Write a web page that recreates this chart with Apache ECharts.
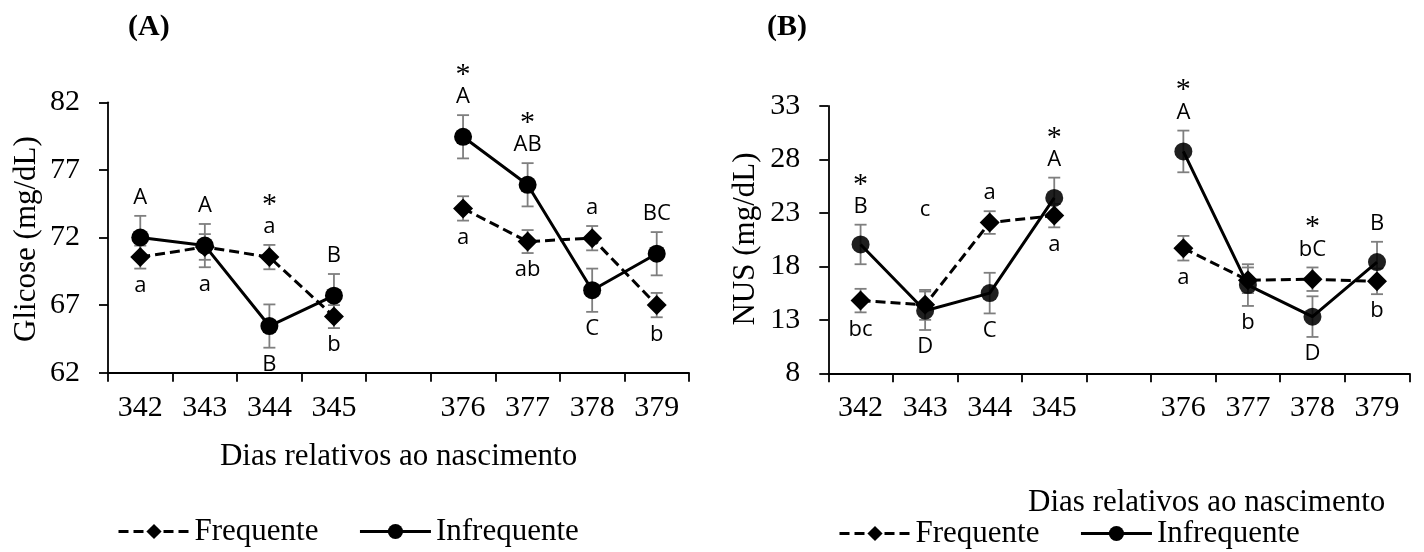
<!DOCTYPE html>
<html><head><meta charset="utf-8">
<script src="https://cdn.jsdelivr.net/npm/echarts@6/dist/echarts.min.js"></script>
<style>html,body{margin:0;padding:0;background:#fff}#c{width:1424px;height:552px}</style>
</head><body><div id="c"></div>
<script>
// ---------- data ----------
const categories = ['342','343','344','345','','376','377','378','379'];
const glicoseTicks = [62,67,72,77,82];
const nusTicks = [8,13,18,23,28,33];

const glicoseFreq     = [70.55, 71.3, 70.55, 66.15, null, 74.15, 71.7, 71.95, 67.0];
const glicoseFreqSE   = [0.85, 0.95, 0.9, 0.85, null, 0.9, 0.85, 0.9, 0.9];
const glicoseInfreq   = [72.0, 71.4, 65.45, 67.7, null, 79.45, 75.9, 68.1, 70.8];
const glicoseInfreqSE = [1.6, 1.6, 1.6, 1.6, null, 1.6, 1.6, 1.6, 1.6];

const nusFreq     = [14.8, 14.4, 22.1, 22.75, null, 19.7, 16.7, 16.8, 16.6];
const nusFreqSE   = [1.1, 1.4, 1.06, 1.1, null, 1.15, 1.2, 1.1, 1.2];
const nusInfreq   = [20.05, 13.85, 15.5, 24.4, null, 28.75, 16.25, 13.3, 18.4];
const nusInfreqSE = [1.85, 1.8, 1.9, 1.9, null, 1.95, 1.95, 1.9, 1.9];

const glicoseTopLetters    = ['A','A','a','B','','A','AB','a','BC'];
const glicoseBottomLetters = ['a','a','B','b','','a','ab','C','b'];
const glicoseStars         = ['','','*','','','*','*','',''];
const nusTopLetters    = ['B','c','a','A','','A','','bC','B'];
const nusBottomLetters = ['bc','D','C','a','','a','b','D','b'];
const nusStars         = ['*','','','*','','*','','*',''];

// ---------- layout helpers (not data) ----------
const nusTopLift = [0,62,0,0,0,0,0,0,0];
const glicoseTopLift = [0,0,0,0,0,0,0,0,0];

const serif = '"Liberation Serif","Times New Roman",serif';
const sans = '"Open Sans","Noto Sans",sans-serif';

function errRender(params, api) {
  const v = api.value(1), se = api.value(2), i = api.value(0);
  if (v == null || isNaN(v)) return null;
  const hi = api.coord([i, v + se]);
  const lo = api.coord([i, v - se]);
  const x = hi[0], cw = 6;
  const style = {stroke:'#7f7f7f', lineWidth:1.8, fill:null};
  return {type:'group', children:[
    {type:'line', shape:{x1:x,y1:hi[1],x2:x,y2:lo[1]}, style},
    {type:'line', shape:{x1:x-cw,y1:hi[1],x2:x+cw,y2:hi[1]}, style},
    {type:'line', shape:{x1:x-cw,y1:lo[1],x2:x+cw,y2:lo[1]}, style}
  ]};
}
function errData(mean, se) {
  return mean.map((v,i)=> v == null ? [i, NaN, NaN] : [i, v, se[i]]);
}
function labelData(f, fse, g, gse) {
  return f.map((v,i)=> v == null ? [i, NaN, NaN] :
    [i, Math.max(f[i]+fse[i], g[i]+gse[i]), Math.min(f[i]-fse[i], g[i]-gse[i])]);
}
function labelRender(top, bottom, stars, lift) {
  return function(params, api) {
    const i = params.dataIndex;
    const hv = api.value(1), lv = api.value(2);
    if (isNaN(hv)) return null;
    const hi = api.coord([i, hv]), lo = api.coord([i, lv]);
    const x = hi[0];
    const ty = hi[1] - 18 - (lift[i] || 0);
    const ch = [];
    if (top[i]) ch.push({type:'text', x, y:ty, style:{text:top[i], font:'22px '+sans, fill:'#000', align:'center', verticalAlign:'middle'}});
    if (stars[i]) ch.push({type:'text', x, y:ty-28+6, style:{text:'*', font:'30px '+serif, fill:'#000', align:'center', verticalAlign:'middle'}});
    if (bottom[i]) ch.push({type:'text', x, y:lo[1]+17, style:{text:bottom[i], font:'22px '+sans, fill:'#000', align:'center', verticalAlign:'middle'}});
    return {type:'group', children:ch};
  };
}

const axisLineStyle = {color:'#000', width:1.8};
function xAxisCfg(gi) {
  return {type:'category', gridIndex:gi, data:categories, boundaryGap:true,
    axisLine:{show:true, lineStyle:axisLineStyle},
    axisTick:{show:true, interval:0, length:9, lineStyle:axisLineStyle},
    axisLabel:{interval:0, margin:20, color:'#000', fontFamily:serif, fontSize:30},
    splitLine:{show:false}};
}
function yAxisCfg(gi, min, max, ticks) {
  return {type:'value', gridIndex:gi, min, max,
    axisLine:{show:true, lineStyle:axisLineStyle},
    axisTick:{show:true, length:9, lineStyle:axisLineStyle, customValues:ticks},
    axisLabel:{margin:28, color:'#000', fontFamily:serif, fontSize:30, customValues:ticks},
    splitLine:{show:false}};
}
function lineSeries(name, gi, data, dashed, symbol, size, color) {
  return {type:'line', name, xAxisIndex:gi, yAxisIndex:gi, data, z:3,
    symbol, symbolSize:size, connectNulls:false,
    lineStyle:{color:'#000', width:3, type: dashed ? [10,5] : 'solid'},
    itemStyle:{color: color, borderWidth:0}};
}
function legendCfg(left, top) {
  return {left, top, padding:0, itemWidth:71, itemHeight:19, itemGap:40, selectedMode:false,
    lineStyle:{width:3, color:'#000'},
    data:['Frequente','Infrequente'], textStyle:{fontFamily:serif, fontSize:31, color:'#000'}};
}

const chart = echarts.init(document.getElementById('c'));
chart.setOption({
  animation:false,
  backgroundColor:'#fff',
  grid:[
    {left:108, top:102.3, width:581, height:270.4},
    {left:828.3, top:106, width:581, height:267.3}
  ],
  xAxis:[xAxisCfg(0), xAxisCfg(1)],
  yAxis:[yAxisCfg(0, 62, 82, glicoseTicks), yAxisCfg(1, 8, 33, nusTicks)],
  legend:[legendCfg(117, 516), legendCfg(838, 518)],
  graphic:[
    {type:'text', left:128, top:12, style:{text:'(A)', font:'bold 30px '+serif, fill:'#000'}},
    {type:'text', left:767, top:12, style:{text:'(B)', font:'bold 30px '+serif, fill:'#000'}},
    {type:'text', x:398.6, y:457, style:{text:'Dias relativos ao nascimento', font:'31px '+serif, fill:'#000', align:'center', verticalAlign:'middle'}},
    {type:'text', x:1206.7, y:503, style:{text:'Dias relativos ao nascimento', font:'31px '+serif, fill:'#000', align:'center', verticalAlign:'middle'}},
    {type:'text', x:27, y:239, rotation:Math.PI/2, style:{text:'Glicose (mg/dL)', font:'31px '+serif, fill:'#000', align:'center', verticalAlign:'middle'}},
    {type:'text', x:746, y:239, rotation:Math.PI/2, style:{text:'NUS (mg/dL)', font:'31px '+serif, fill:'#000', align:'center', verticalAlign:'middle'}}
  ],
  series:[
    {type:'custom', xAxisIndex:0, yAxisIndex:0, z:2, renderItem:errRender, data:errData(glicoseFreq, glicoseFreqSE), silent:true},
    {type:'custom', xAxisIndex:0, yAxisIndex:0, z:2, renderItem:errRender, data:errData(glicoseInfreq, glicoseInfreqSE), silent:true},
    {type:'custom', xAxisIndex:1, yAxisIndex:1, z:2, renderItem:errRender, data:errData(nusFreq, nusFreqSE), silent:true},
    {type:'custom', xAxisIndex:1, yAxisIndex:1, z:2, renderItem:errRender, data:errData(nusInfreq, nusInfreqSE), silent:true},
    lineSeries('Frequente', 0, glicoseFreq, true, 'diamond', 20, '#000'),
    lineSeries('Infrequente', 0, glicoseInfreq, false, 'circle', 18, '#000'),
    lineSeries('Frequente', 1, nusFreq, true, 'diamond', 20, '#000'),
    lineSeries('Infrequente', 1, nusInfreq, false, 'circle', 18, 'rgba(0,0,0,0.88)'),
    {type:'custom', xAxisIndex:0, yAxisIndex:0, z:5, silent:true,
     renderItem:labelRender(glicoseTopLetters, glicoseBottomLetters, glicoseStars, glicoseTopLift),
     data:labelData(glicoseFreq, glicoseFreqSE, glicoseInfreq, glicoseInfreqSE)},
    {type:'custom', xAxisIndex:1, yAxisIndex:1, z:5, silent:true,
     renderItem:labelRender(nusTopLetters, nusBottomLetters, nusStars, nusTopLift),
     data:labelData(nusFreq, nusFreqSE, nusInfreq, nusInfreqSE)}
  ]
});
</script></body></html>
